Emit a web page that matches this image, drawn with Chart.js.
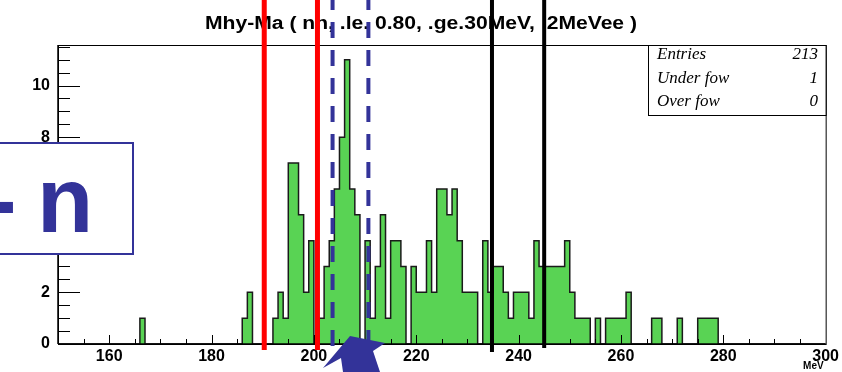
<!DOCTYPE html>
<html><head><meta charset="utf-8">
<script src="https://cdn.jsdelivr.net/npm/chart.js@4.4.1/dist/chart.umd.min.js"></script>
<style>html,body{margin:0;padding:0;background:#fff;overflow:hidden}canvas{display:block}</style>
</head><body>
<canvas id="c" width="842" height="372" style="width:842px;height:372px"></canvas>
<script>
// ---- data ----
const titleText = 'Mhy-Ma ( nn, .le. 0.80, .ge.30MeV,  2MeVee )';
const binStart = 150;   // lower edge of first bin (MeV)
const binWidth = 1;     // MeV
const counts = [
  0,0,0,0,0,0,0,0,0,0,   // 150-159
  0,0,0,0,0,0,1,0,0,0,   // 160-169
  0,0,0,0,0,0,0,0,0,0,   // 170-179
  0,0,0,0,0,0,1,2,0,0,   // 180-189
  0,0,1,2,1,7,7,5,2,4,   // 190-199
  0,1,3,4,6,8,11,6,5,0,  // 200-209
  4,1,3,5,1,4,4,3,0,3,   // 210-219
  2,2,4,2,6,6,5,6,4,2,   // 220-229
  2,2,0,4,2,3,3,2,1,2,   // 230-239
  2,2,1,4,3,3,3,3,3,4,   // 240-249
  2,1,1,1,0,1,0,1,1,1,   // 250-259
  1,2,0,0,0,0,1,1,0,0,   // 260-269
  0,1,0,0,0,1,1,1,1,0,   // 270-279
  0,0,0,0,0,0,0,0,0,0,   // 280-289
  0,0,0,0,0,0,0,0,0,0    // 290-299
];
const xTickLabels = [160, 180, 200, 220, 240, 260, 280, 300];
const yTickLabels = [0, 2, 4, 6, 8, 10];
const statsNames  = ['Entries', 'Under fow', 'Over fow'];
const statsValues = ['213', '1', '0'];
const redCuts   = [190.3, 200.7];
const blueCuts  = [203.65, 210.65];
const blackCuts = [234.8, 245.0];
const boxText = ['-', 'n'];

// ---- build dataset ----
const pts = counts.map((c, i) => ({x: binStart + i * binWidth, y: c}));
pts.push({x: binStart + counts.length * binWidth, y: 0});

const overlay = {
  id: 'overlay',
  afterDraw(chart) {
    const ctx = chart.ctx, xs = chart.scales.x, ys = chart.scales.y, a = chart.chartArea;
    ctx.save();
    // frame
    ctx.strokeStyle = '#000'; ctx.lineWidth = 1;
    ctx.strokeRect(a.left + 0.5, a.top + 0.5, a.right - a.left, a.bottom - a.top);
    ctx.lineWidth = 1.5;
    ctx.beginPath(); ctx.moveTo(a.left, a.bottom); ctx.lineTo(a.right, a.bottom); ctx.stroke();
    ctx.beginPath(); ctx.moveTo(a.left, a.bottom); ctx.lineTo(a.left, a.top); ctx.stroke();
    // x ticks (inward)
    ctx.lineWidth = 1;
    for (let v = xs.min + 5; v < xs.max; v += 5) {
      const px = Math.round(xs.getPixelForValue(v)) + 0.5;
      const len = xTickLabels.includes(v) ? 9 : 5;
      ctx.beginPath(); ctx.moveTo(px, a.bottom); ctx.lineTo(px, a.bottom - len); ctx.stroke();
    }
    // y ticks (inward)
    for (let v = 0.5; v < ys.max; v += 0.5) {
      const py = Math.round(ys.getPixelForValue(v)) + 0.5;
      const len = yTickLabels.includes(v) ? 22 : 12;
      ctx.beginPath(); ctx.moveTo(a.left, py); ctx.lineTo(a.left + len, py); ctx.stroke();
    }
    // MeV unit label
    ctx.fillStyle = '#000';
    ctx.font = 'bold 10px "Liberation Sans", Arial, sans-serif';
    ctx.textAlign = 'right'; ctx.textBaseline = 'alphabetic';
    ctx.fillText('MeV', a.right - 2, 369);
    // title
    ctx.font = 'bold 18px "Liberation Sans", Arial, sans-serif';
    ctx.textAlign = 'left'; ctx.textBaseline = 'middle';
    const tw = ctx.measureText(titleText).width;
    ctx.save();
    ctx.translate(205, 24);
    ctx.scale(432 / tw, 1);
    ctx.fillText(titleText, 0, 0);
    ctx.restore();
    // stats box
    const bx = 648, by = a.top, bw = a.right - 648, bh = 70;
    ctx.fillStyle = '#fff';
    ctx.fillRect(bx, by, bw, bh);
    ctx.strokeStyle = '#000'; ctx.lineWidth = 1;
    ctx.strokeRect(bx + 0.5, by + 0.5, bw, bh);
    ctx.fillStyle = '#000';
    ctx.font = 'italic 17px "Liberation Serif", "Times New Roman", serif';
    ctx.textBaseline = 'middle';
    statsNames.forEach((n, i) => {
      const yy = 55 + i * 23.5;
      ctx.textAlign = 'left'; ctx.fillText(n, 657, yy);
      ctx.textAlign = 'right'; ctx.fillText(statsValues[i], 818, yy);
    });
    // cut lines
    const vline = (v, color, w, y0, y1, dash) => {
      const px = xs.getPixelForValue(v);
      ctx.strokeStyle = color; ctx.lineWidth = w;
      ctx.setLineDash(dash || []);
      ctx.beginPath(); ctx.moveTo(px, y0); ctx.lineTo(px, y1); ctx.stroke();
      ctx.setLineDash([]);
    };
    redCuts.forEach(v => vline(v, '#ff0000', 5, 0, 350));
    blueCuts.forEach(v => vline(v, '#333399', 4, -6, 350, [16, 12]));
    vline(blackCuts[0], '#000', 4, 0, 352);
    vline(blackCuts[1], '#000', 4, 0, 348);
    // "- n" label box
    ctx.fillStyle = '#fff';
    ctx.fillRect(-2, 142, 135, 113);
    ctx.strokeStyle = '#333399'; ctx.lineWidth = 2;
    ctx.strokeRect(-2, 143, 135, 111);
    ctx.fillStyle = '#333399';
    ctx.font = 'bold 92px "Liberation Sans", Arial, sans-serif';
    ctx.textAlign = 'left'; ctx.textBaseline = 'alphabetic';
    ctx.fillText(boxText[0], -14, 232);
    ctx.fillText(boxText[1], 37, 232);
    // arrow
    ctx.beginPath();
    ctx.moveTo(350, 336);
    ctx.lineTo(385, 343);
    ctx.lineTo(373, 351);
    ctx.lineTo(380, 372);
    ctx.lineTo(343, 372);
    ctx.lineTo(341, 358);
    ctx.lineTo(323, 368);
    ctx.closePath();
    ctx.fill();
    ctx.restore();
  }
};

new Chart(document.getElementById('c'), {
  type: 'line',
  data: { datasets: [{
    data: pts,
    stepped: 'before',
    fill: 'origin',
    backgroundColor: '#59d354',
    borderColor: '#1a1a1a',
    borderWidth: 1.5,
    pointRadius: 0,
    tension: 0
  }]},
  options: {
    responsive: false,
    devicePixelRatio: 1,
    animation: false,
    layout: { padding: { left: 0, top: 45, right: 14, bottom: 0 } },
    plugins: { legend: { display: false }, tooltip: { enabled: false }, title: { display: false } },
    scales: {
      x: {
        type: 'linear', min: 150, max: 300,
        grid: { display: false, drawTicks: false },
        border: { display: false },
        afterFit: s => { s.height = 28; },
        ticks: {
          stepSize: 5, autoSkip: false, maxRotation: 0, includeBounds: false, padding: 3,
          color: '#000', font: { family: '"Liberation Sans", Arial, sans-serif', weight: 'bold', size: 16 },
          callback: v => xTickLabels.includes(v) ? String(v) : ''
        }
      },
      y: {
        min: 0, max: 11.57,
        grid: { display: false, drawTicks: false },
        border: { display: false },
        afterFit: s => { s.width = 58; },
        ticks: {
          stepSize: 0.5, autoSkip: false, includeBounds: false, padding: 8,
          color: '#000', font: { family: '"Liberation Sans", Arial, sans-serif', weight: 'bold', size: 16 },
          callback: v => yTickLabels.includes(v) ? String(v) : ''
        }
      }
    }
  },
  plugins: [overlay]
});
</script>
</body></html>
